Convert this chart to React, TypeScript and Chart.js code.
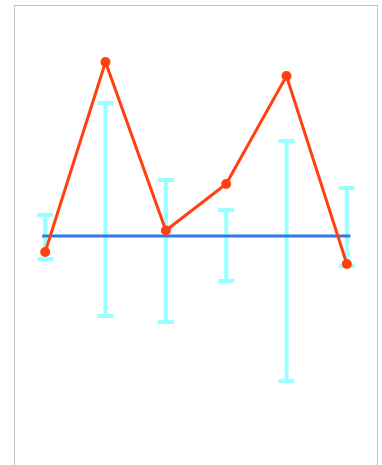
import React, { useEffect, useRef } from "react";
import { Chart, registerables } from "chart.js";

Chart.register(...registerables);

const categories = [0, 1, 2, 3, 4, 5];
const seriesValues = [-1.6, 17.4, 0.55, 5.2, 16.0, -2.8];
const errHigh = [2.1, 13.3, 5.6, 2.6, 9.5, 4.8];
const errLow = [-2.3, -8.0, -8.6, -4.5, -14.5, -3.0];
const baselineValue = 0;
const baselineRange = [-0.05, 5.06];

const errorBarPlugin = {
  id: "errorBars",
  beforeDatasetsDraw(chart: any) {
    const { ctx, scales } = chart;
    const xs = scales.x;
    const ys = scales.y;
    ctx.save();
    ctx.strokeStyle = "#99ffff";
    ctx.lineWidth = 4;
    ctx.lineCap = "butt";
    categories.forEach((c, i) => {
      const x = xs.getPixelForValue(c);
      const yt = ys.getPixelForValue(errHigh[i]);
      const yb = ys.getPixelForValue(errLow[i]);
      ctx.beginPath();
      ctx.moveTo(x, yt);
      ctx.lineTo(x, yb);
      ctx.stroke();
      ctx.beginPath();
      ctx.moveTo(x - 8, yt);
      ctx.lineTo(x + 8, yt);
      ctx.moveTo(x - 8, yb);
      ctx.lineTo(x + 8, yb);
      ctx.stroke();
    });
    ctx.restore();
  },
};

export default function App() {
  const ref = useRef<HTMLCanvasElement>(null);
  useEffect(() => {
    if (!ref.current) return;
    const chart = new Chart(ref.current, {
      type: "line",
      data: {
        datasets: [
          {
            data: categories.map((c, i) => ({ x: c, y: seriesValues[i] })),
            borderColor: "#ff400f",
            backgroundColor: "#ff400f",
            borderWidth: 3,
            pointRadius: 5,
            pointBorderWidth: 0,
            tension: 0,
            clip: false as any,
          },
          {
            data: baselineRange.map((x) => ({ x, y: baselineValue })),
            borderColor: "#2e7be6",
            borderWidth: 3,
            pointRadius: 0,
            tension: 0,
            clip: false as any,
          },
        ],
      },
      options: {
        responsive: false,
        animation: false,
        devicePixelRatio: 1,
        layout: { padding: 0, autoPadding: false },
        plugins: { legend: { display: false }, tooltip: { enabled: false } },
        scales: {
          x: { type: "linear", min: -0.5, max: 5.5, display: false },
          y: { type: "linear", min: -23, max: 23, display: false },
        },
      },
      plugins: [errorBarPlugin],
    });
    return () => chart.destroy();
  }, []);
  return (
    <div
      style={{
        position: "absolute",
        left: 14,
        top: 5,
        width: 364,
        height: 520,
        border: "1px solid #c4c4c4",
        boxSizing: "border-box",
        background: "#fff",
      }}
    >
      <canvas ref={ref} width={362} height={460} style={{ display: "block" }} />
    </div>
  );
}
